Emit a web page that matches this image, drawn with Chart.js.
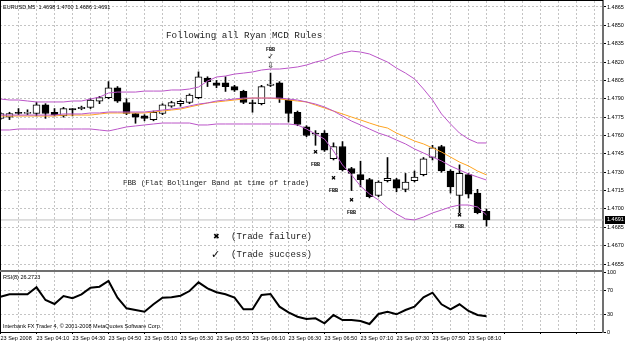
<!DOCTYPE html>
<html>
<head>
<meta charset="utf-8">
<script src="https://cdn.jsdelivr.net/npm/chart.js@4"></script>
<style>
  html, body { margin: 0; padding: 0; background: #fff; }
  #wrap { position: relative; width: 625px; height: 342px; overflow: hidden; background: #fff; }
  canvas { position: absolute; left: 0; }
  #main { top: 0; }
  #rsiPane { top: 262px; }
</style>
</head>
<body>
<div id="wrap">
  <canvas id="main" width="625" height="272"></canvas>
  <canvas id="rsiPane" width="625" height="80"></canvas>
</div>
<script>
// EURUSD M5, 23 Sep 2008, one entry per bar
var SYMBOL = "EURUSD,M5";
var DATE0 = "23 Sep 2008";
var DAY = "23 Sep";
var times = ["03:50","03:55","04:00","04:05","04:10","04:15","04:20","04:25","04:30","04:35",
  "04:40","04:45","04:50","04:55","05:00","05:05","05:10","05:15","05:20","05:25",
  "05:30","05:35","05:40","05:45","05:50","05:55","06:00","06:05","06:10","06:15",
  "06:20","06:25","06:30","06:35","06:40","06:45","06:50","06:55","07:00","07:05",
  "07:10","07:15","07:20","07:25","07:30","07:35","07:40","07:45","07:50","07:55",
  "08:00","08:05","08:10","08:15","08:20"];

var open = [1.4774,1.4775,1.4779,1.4778,1.4778,1.4785,1.4779,1.4776,1.4782,1.4782,
  1.4783,1.4788,1.4791,1.4799,1.4787,1.4778,1.4776,1.4773,1.4778,1.4784,
  1.4786,1.4787,1.4791,1.4807,1.4803,1.4803,1.4800,1.4796,1.4787,1.4786,
  1.4801,1.4803,1.4789,1.4779,1.4767,1.4762,1.4762,1.4741,1.4751,1.4733,
  1.4728,1.4724,1.4711,1.4723,1.4724,1.4716,1.4723,1.4728,1.4742,1.4751,
  1.4731,1.4711,1.4728,1.4713,1.4698];
var high = [1.4779,1.4779,1.4782,1.4781,1.4787,1.4786,1.4782,1.4783,1.4782,1.4784,
  1.4790,1.4792,1.4804,1.4800,1.4790,1.4778,1.4777,1.4780,1.4786,1.4788,
  1.4789,1.4794,1.4812,1.4808,1.4805,1.4808,1.4801,1.4797,1.4789,1.4801,
  1.4811,1.4804,1.4790,1.4780,1.4768,1.4764,1.4764,1.4754,1.4755,1.4734,
  1.4739,1.4725,1.4723,1.4742,1.4725,1.4729,1.4731,1.4742,1.4752,1.4752,
  1.4732,1.4736,1.4729,1.4716,1.4700];
var low = [1.4773,1.4773,1.4777,1.4777,1.4776,1.4774,1.4776,1.4775,1.4776,1.4781,
  1.4782,1.4786,1.4790,1.4787,1.4777,1.4770,1.4772,1.4772,1.4777,1.4783,
  1.4784,1.4786,1.4790,1.4800,1.4799,1.4796,1.4796,1.4786,1.4779,1.4785,
  1.4800,1.4787,1.4771,1.4768,1.4759,1.4752,1.4747,1.4740,1.4731,1.4715,
  1.4718,1.4709,1.4710,1.4722,1.4714,1.4714,1.4722,1.4727,1.4740,1.4730,
  1.4713,1.4697,1.4709,1.4696,1.4686];
var close = [1.4778,1.4778,1.4778,1.4779,1.4785,1.4778,1.4777,1.4782,1.4781,1.4783,
  1.4789,1.4791,1.4799,1.4788,1.4778,1.4775,1.4774,1.4779,1.4785,1.4787,
  1.4788,1.4793,1.4808,1.4804,1.4801,1.4800,1.4797,1.4787,1.4786,1.4800,
  1.4802,1.4790,1.4778,1.4769,1.4760,1.4761,1.4748,1.4751,1.4732,1.4729,
  1.4724,1.4710,1.4722,1.4725,1.4717,1.4722,1.4726,1.4741,1.4750,1.4731,
  1.4718,1.4729,1.4712,1.4697,1.4691];

// Bollinger bands and moving average
var bbUpper = [1.47898,1.47890,1.47890,1.47882,1.47874,1.47874,1.47874,1.47874,1.47882,1.47882,
  1.47898,1.47914,1.47947,1.47955,1.47955,1.47955,1.47963,1.47963,1.47963,1.47972,
  1.47972,1.47980,1.47996,1.48045,1.48078,1.48086,1.48102,1.48110,1.48119,1.48135,
  1.48143,1.48143,1.48151,1.48160,1.48176,1.48200,1.48217,1.48250,1.48274,1.48290,
  1.48282,1.48266,1.48233,1.48200,1.48151,1.48110,1.48062,1.47980,1.47890,1.47776,
  1.47694,1.47620,1.47571,1.47539,1.47539];
var bbMiddle = [1.47767,1.47767,1.47767,1.47767,1.47767,1.47767,1.47767,1.47776,1.47776,1.47776,
  1.47784,1.47784,1.47792,1.47792,1.47792,1.47792,1.47792,1.47800,1.47808,1.47816,
  1.47825,1.47841,1.47857,1.47866,1.47882,1.47890,1.47898,1.47906,1.47906,1.47906,
  1.47906,1.47906,1.47898,1.47890,1.47874,1.47857,1.47833,1.47800,1.47759,1.47718,
  1.47686,1.47653,1.47620,1.47596,1.47563,1.47531,1.47490,1.47457,1.47424,1.47392,
  1.47351,1.47318,1.47286,1.47261,1.47236];
var bbLower = [1.47645,1.47645,1.47653,1.47653,1.47653,1.47653,1.47653,1.47653,1.47653,1.47653,
  1.47653,1.47645,1.47637,1.47653,1.47670,1.47678,1.47686,1.47694,1.47702,1.47702,
  1.47702,1.47702,1.47686,1.47686,1.47694,1.47694,1.47694,1.47694,1.47694,1.47694,
  1.47694,1.47694,1.47694,1.47686,1.47653,1.47612,1.47571,1.47473,1.47359,1.47278,
  1.47187,1.47122,1.47073,1.47008,1.46959,1.46918,1.46910,1.46934,1.46967,1.46991,
  1.47016,1.47032,1.47032,1.47016,1.46951];
var ma = [1.47759,1.47759,1.47759,1.47759,1.47759,1.47759,1.47759,1.47767,1.47767,1.47767,
  1.47767,1.47776,1.47784,1.47784,1.47784,1.47784,1.47784,1.47792,1.47800,1.47808,
  1.47816,1.47833,1.47849,1.47866,1.47874,1.47882,1.47890,1.47898,1.47906,1.47906,
  1.47906,1.47898,1.47890,1.47882,1.47874,1.47849,1.47825,1.47800,1.47776,1.47751,
  1.47727,1.47702,1.47678,1.47661,1.47620,1.47588,1.47555,1.47531,1.47498,1.47465,
  1.47424,1.47383,1.47351,1.47310,1.47278];

var rsi = [58.8,62.8,62.8,62.8,74.5,53.3,46.7,60.0,56.2,62.8,
  73.8,75.5,85.0,57.2,39.5,36.7,33.8,46.2,57.2,57.8,
  60.5,68.3,82.8,72.8,66.2,62.8,57.2,37.8,37.8,61.7,
  63.3,42.2,32.8,25.5,21.7,22.8,14.5,28.3,20.0,20.0,
  18.3,13.3,30.0,33.8,29.5,36.7,42.2,57.8,65.5,46.2,
  37.8,46.2,35.0,28.3,26.2723];

var priceTicks = [1.4655,1.4670,1.4685,1.4700,1.4715,1.4730,1.4745,1.4760,1.4775,1.4790,1.4805,1.4820,1.4835,1.4850,1.4865];
var rsiLevels = [100, 70, 30, 0];

// trade marks drawn on the chart
var failBars = [35, 37, 39, 51];
var failPrices = [1.4746, 1.4725, 1.4707, 1.4695];
var successBars = [30];
var successPrices = [1.4824];

var TITLE = "Following all Ryan MCD Rules";
var NOTE = "FBB (Flat Bollinger Band at time of trade)";
var RSI_NAME = "RSI(8)";
var COPY = "Interbank FX Trader 4, \u00a9 2001-2008 MetaQuotes Software Corp.";

var SANS = "'Liberation Sans', Arial, sans-serif";
var SMALL = 5.5;
var MONO = "'Liberation Mono', 'DejaVu Sans Mono', monospace";
var GLYPH = "'DejaVu Sans', sans-serif";
var GRID = "#c4c4c4";
var EDGE = "#707070";
var BAND = "#bb55c8";
var ORANGE = "#ffa420";

var X_MIN = -1 / 18;
var X_MAX = 67 - 1 / 18;
var bars = times.map(function (t, i) { return i; });
var gridBars = [];
for (var g = 0; g <= X_MAX; g += 2) gridBars.push(g);
var last = close.length - 1;

function series(arr) {
  return bars.map(function (i) { return { x: i, y: arr[i] }; });
}
function lineSet(arr, color) {
  return { type: "line", data: series(arr), borderColor: color, borderWidth: 1,
    pointRadius: 0, tension: 0, order: 0 };
}
function tickFont() { return { family: SANS, size: SMALL }; }

var mainDecor = {
  id: "mainDecor",
  afterDraw: function (chart) {
    var ctx = chart.ctx, a = chart.chartArea, xs = chart.scales.x, ys = chart.scales.y;
    ctx.save();
    ctx.fillStyle = "#000";
    ctx.fillRect(0, 0, a.right, 1);
    ctx.fillRect(0, 0, 1, a.bottom);
    ctx.fillStyle = EDGE;
    ctx.fillRect(0, a.bottom, a.right + 1, 2);

    ctx.textBaseline = "middle";
    ctx.textAlign = "left";
    ctx.fillStyle = "#000";
    ctx.font = SMALL + "px " + SANS;
    var ohlc = [open[last], high[last], low[last], close[last]].map(function (v) { return v.toFixed(4); });
    ctx.fillText(SYMBOL + "  " + ohlc.join(" "), 3, 7);

    ctx.fillStyle = "#222";
    ctx.font = "9.3px " + MONO;
    ctx.fillText(TITLE, 166, 36);
    ctx.font = "7.4px " + MONO;
    ctx.fillText(NOTE, 123, 183);
    ctx.font = "9px " + MONO;
    ctx.fillText("(Trade failure)", 231, 237);
    ctx.fillText("(Trade success)", 231, 255);
    ctx.fillStyle = "#000";
    ctx.font = "8px " + GLYPH;
    ctx.fillText("\u2716", 213, 237);
    ctx.font = "11px " + GLYPH;
    ctx.fillText("\u2713", 211, 255);

    ctx.textAlign = "center";
    failBars.forEach(function (b, k) {
      var px = xs.getPixelForValue(b), py = ys.getPixelForValue(failPrices[k]);
      ctx.font = "6px " + GLYPH;
      ctx.fillText("\u2716", px, py);
      ctx.font = "bold 5px " + MONO;
      ctx.fillText("FBB", px, py + 12);
    });
    successBars.forEach(function (b, k) {
      var px = xs.getPixelForValue(b), py = ys.getPixelForValue(successPrices[k]);
      ctx.font = "bold 5px " + MONO;
      ctx.fillText("FBB", px, py - 7);
      ctx.font = "8px " + GLYPH;
      ctx.fillText("\u2713", px, py);
      ctx.fillText("\u21e9", px, py + 9);
    });

    // current price box on the axis
    var cy = ys.getPixelForValue(close[last]);
    ctx.fillStyle = "#000";
    ctx.fillRect(a.right + 2, Math.round(cy) - 4, 625 - a.right, 8);
    ctx.fillStyle = "#fff";
    ctx.textAlign = "left";
    ctx.font = SMALL + "px " + SANS;
    ctx.fillText(close[last].toFixed(4), a.right + 4, cy);
    ctx.restore();
  }
};

var rsiDecor = {
  id: "rsiDecor",
  afterDraw: function (chart) {
    var ctx = chart.ctx, a = chart.chartArea;
    ctx.save();
    ctx.fillStyle = "#000";
    ctx.fillRect(0, a.top, 1, a.bottom - a.top);
    ctx.textBaseline = "middle";
    ctx.textAlign = "left";
    ctx.font = SMALL + "px " + SANS;
    ctx.fillText(RSI_NAME + " " + rsi[last].toFixed(4), 3, a.top + 5);
    ctx.fillText(COPY, 3, a.bottom - 6);
    ctx.restore();
  }
};

new Chart(document.getElementById("main"), {
  type: "bar",
  data: {
    datasets: [
      lineSet(bbUpper, BAND),
      lineSet(bbMiddle, BAND),
      lineSet(bbLower, BAND),
      lineSet(ma, ORANGE),
      {
        type: "bar",
        data: bars.map(function (i) { return { x: i, y: [open[i], close[i]] }; }),
        barThickness: 7,
        grouped: false,
        borderWidth: 1,
        borderSkipped: false,
        borderColor: "#000",
        backgroundColor: function (c) {
          var i = c.dataIndex;
          return close[i] >= open[i] ? "#fff" : "#000";
        },
        order: 1
      },
      {
        type: "bar",
        data: bars.map(function (i) { return { x: i, y: [low[i], high[i]] }; }),
        barThickness: 1,
        grouped: false,
        borderWidth: 0,
        backgroundColor: "#000",
        order: 2
      },
      {
        type: "line",
        data: [{ x: X_MIN, y: close[last] }, { x: X_MAX, y: close[last] }],
        borderColor: "#c0c0c0",
        borderWidth: 1,
        pointRadius: 0,
        order: 3
      }
    ]
  },
  options: {
    responsive: false,
    animation: false,
    events: [],
    layout: { padding: { top: 1, bottom: 2, left: 0, right: 0 } },
    plugins: { legend: { display: false }, tooltip: { enabled: false } },
    scales: {
      x: {
        type: "linear", min: X_MIN, max: X_MAX, offset: false, bounds: "data",
        ticks: { display: false },
        grid: { color: GRID, drawTicks: false, offset: false },
        border: { display: false, dash: [2, 2] },
        afterBuildTicks: function (s) { s.ticks = gridBars.map(function (v) { return { value: v }; }); },
        afterFit: function (s) { s.height = 0; s.paddingLeft = 0; s.paddingRight = 0; }
      },
      y: {
        type: "linear", position: "right", min: 1.46501, max: 1.48699, bounds: "data",
        afterBuildTicks: function (s) { s.ticks = priceTicks.map(function (v) { return { value: v }; }); },
        ticks: { callback: function (v) { return v.toFixed(4); }, font: tickFont(), color: "#000", padding: 1, autoSkip: false },
        grid: { color: GRID, tickColor: "#000", tickLength: 3, tickWidth: 1 },
        border: { display: true, color: EDGE, width: 2, dash: [2, 2] },
        afterFit: function (s) { s.width = 22; s.paddingTop = 0; s.paddingBottom = 0; }
      }
    }
  },
  plugins: [mainDecor]
});

new Chart(document.getElementById("rsiPane"), {
  type: "line",
  data: {
    datasets: [{
      data: series(rsi),
      borderColor: "#000",
      borderWidth: 2,
      pointRadius: 0,
      tension: 0
    }]
  },
  options: {
    responsive: false,
    animation: false,
    events: [],
    layout: { padding: { top: 10, bottom: 0, left: 0, right: 0 } },
    plugins: { legend: { display: false }, tooltip: { enabled: false } },
    scales: {
      x: {
        type: "linear", min: X_MIN, max: X_MAX, offset: false, bounds: "data",
        afterBuildTicks: function (s) { s.ticks = gridBars.map(function (v) { return { value: v }; }); },
        ticks: {
          callback: function (v) {
            if (v % 4 !== 0 || v >= times.length) return "";
            return v === 0 ? DATE0 : DAY + " " + times[v];
          },
          font: tickFont(), color: "#000", maxRotation: 0, minRotation: 0,
          autoSkip: false, align: "start", padding: 1
        },
        grid: {
          color: GRID, tickLength: 2, tickWidth: 1,
          tickColor: function (c) { return c.tick && c.tick.value % 4 === 0 ? "#000" : "rgba(0,0,0,0)"; }
        },
        border: { display: true, color: "#000", width: 1, dash: [2, 2] },
        afterFit: function (s) { s.height = 10; s.paddingLeft = 0; s.paddingRight = 0; }
      },
      y: {
        type: "linear", position: "right", min: 0, max: 100, bounds: "data",
        afterBuildTicks: function (s) { s.ticks = rsiLevels.map(function (v) { return { value: v }; }); },
        ticks: { callback: function (v) { return String(v); }, font: tickFont(), color: "#000", padding: 1, autoSkip: false },
        grid: {
          tickColor: "#000", tickLength: 3, tickWidth: 1,
          color: function (c) { return c.tick && (c.tick.value === 70 || c.tick.value === 30) ? GRID : "rgba(0,0,0,0)"; }
        },
        border: { display: true, color: EDGE, width: 2, dash: [2, 2] },
        afterFit: function (s) { s.width = 22; s.paddingTop = 0; s.paddingBottom = 0; }
      }
    }
  },
  plugins: [rsiDecor]
});
</script>
</body>
</html>
